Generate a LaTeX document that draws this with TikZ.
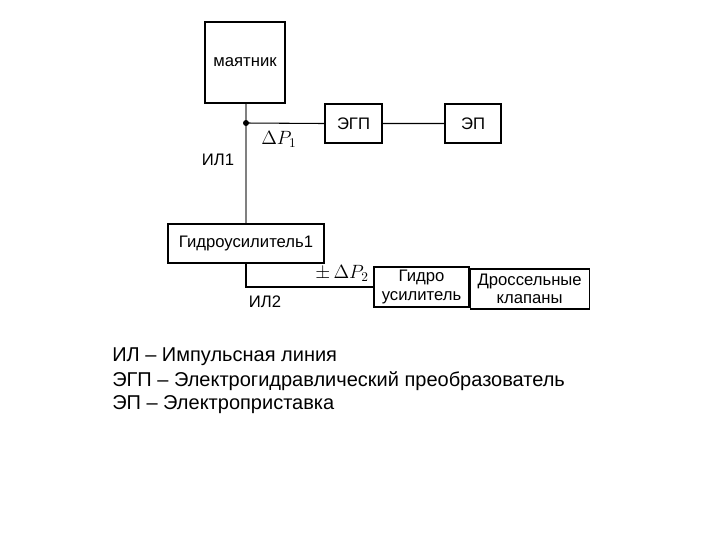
\documentclass[tikz,border=0pt]{standalone}
\usepackage{fontspec}
\setmainfont{Liberation Sans}
\begin{document}
\begin{tikzpicture}[x=0.75pt,y=-0.75pt,
  box/.style={draw,line width=0.9pt,inner sep=0pt,align=center,font=\fontsize{12.5}{14}\selectfont},
  lbl/.style={font=\fontsize{12.5}{14}\selectfont,inner sep=0pt},
  leg/.style={anchor=west,inner sep=0pt,font=\fontsize{15}{17}\selectfont},
  ln/.style={line width=0.8pt}]
\useasboundingbox (0,0) rectangle (720,540);
\node[box,minimum width=80*0.75pt,minimum height=81*0.75pt] (m) at (245,62.5) {маятник};
\node[box,minimum width=57*0.75pt,minimum height=39*0.75pt] (egp) at (353.5,123.5) {ЭГП};
\node[box,minimum width=56*0.75pt,minimum height=39*0.75pt] (ep) at (473,123.5) {ЭП};
\node[box,minimum width=156*0.75pt,minimum height=39*0.75pt] (g1) at (246,243.5) {Гидроусилитель1};
\node[box,minimum width=95*0.75pt,minimum height=40*0.75pt] (g2) at (421.5,287) {Гидро\\усилитель};
\node[box,minimum width=119*0.75pt,minimum height=40*0.75pt,anchor=west] (dr) at (g2.east|-0,289) {Дроссельные\\клапаны};
\coordinate (j) at (246,123);
\coordinate (c) at (246,287);
\draw[ln,gray] (m.south-|j) -- (g1.north-|j);
\draw[ln] (j) -- (egp.west) (egp.east) -- (ep.west);
\fill (j) circle (3);
\draw[ln] (g1.south-|c) -- (c) -- (c-|g2.west);
\node[lbl,anchor=north west,font=\fontsize{14}{16}\selectfont] (dp1) at (261,131) {$\Delta P_1$};
\node[lbl] (il1) at (218,160) {ИЛ1};
\node[lbl,font=\fontsize{14}{16}\selectfont] (dp2) at (342,273) {$\pm\,\Delta P_2$};
\node[lbl] (il2) at (265,302) {ИЛ2};
\node[leg] (l1) at (112,357) {ИЛ – Импульсная линия};
\node[leg] (l2) at (112,381) {ЭГП – Электрогидравлический преобразователь};
\node[leg] (l3) at (112,405) {ЭП – Электроприставка};
\end{tikzpicture}
\end{document}
